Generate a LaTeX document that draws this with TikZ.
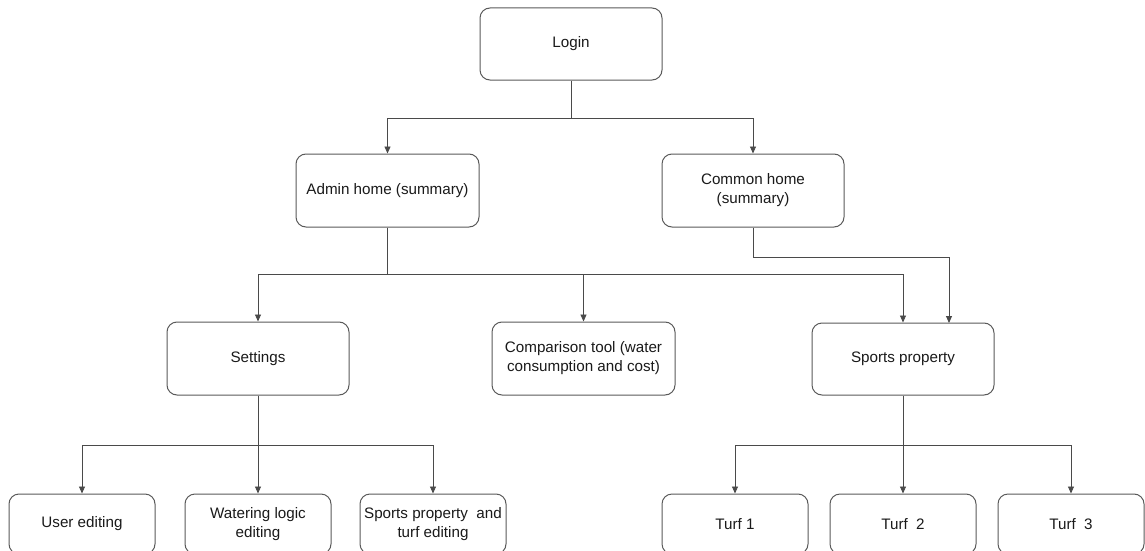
\documentclass[tikz,border=0pt]{standalone}
\usepackage{fontspec}
\setmainfont{Liberation Sans}
\usetikzlibrary{arrows.meta}
\definecolor{boxline}{HTML}{5A5A5A}
\definecolor{conline}{HTML}{4A4A4A}
\definecolor{txt}{HTML}{1A1A1A}
\tikzset{
  x=1pt, y=-1pt,
  box/.style={draw=boxline, line width=1pt, rounded corners=10pt, fill=white,
    align=center, text=txt, inner sep=2pt,
    font=\fontsize{15.2}{19}\selectfont},
  arr/.style={draw=conline, line width=0.9pt, -{Triangle[width=6pt,length=7pt]}},
  ln/.style={draw=conline, line width=0.9pt}
}
\begin{document}
\begin{tikzpicture}
\useasboundingbox (0,0) rectangle (1145,551);
\clip (0,0) rectangle (1145,551);
\fill[white] (0,0) rectangle (1145,551);
% level 0
\node[box, minimum width=182pt, minimum height=72pt] (login) at (571,44) {Login};
% level 1
\node[box, minimum width=183pt, minimum height=73pt] (admin) at (387.5,190.5) {Admin home (summary)};
\node[box, minimum width=182pt, minimum height=73pt] (common) at (753,190.5) {Common home\\(summary)};
% level 2
\node[box, minimum width=182pt, minimum height=73pt] (settings) at (258,358.5) {Settings};
\node[box, minimum width=183pt, minimum height=73pt] (compare) at (583.5,358.5) {Comparison tool (water\\consumption and cost)};
\node[box, minimum width=182pt, minimum height=72pt] (sports) at (903,359) {Sports property};
% level 3
\node[box, minimum width=146pt, minimum height=60pt] (user) at (82,524) {User editing};
\node[box, minimum width=146pt, minimum height=60pt] (water) at (258,524) {Watering logic\\editing};
\node[box, minimum width=146pt, minimum height=60pt] (spte) at (433,524) {Sports property~~and\\turf editing};
\node[box, minimum width=146pt, minimum height=60pt] (turfa) at (735,524) {Turf 1};
\node[box, minimum width=146pt, minimum height=60pt] (turfb) at (903,524) {Turf~~2};
\node[box, minimum width=146pt, minimum height=60pt] (turfc) at (1071,524) {Turf~~3};
% junctions
\coordinate (j0) at (571,118);
\coordinate (j1) at (387.5,274.5);
\coordinate (j2) at (753,257);
\coordinate (sp2) at (949,323);
\coordinate (j3) at (258,445);
\coordinate (j4) at (903,445);
% connectors
\draw[ln] (login.south) -- (j0);
\draw[arr] (j0) -| (admin.north);
\draw[arr] (j0) -| (common.north);
\draw[ln] (admin.south) -- (j1);
\draw[arr] (j1) -| (settings.north);
\draw[arr] (j1) -| (compare.north);
\draw[arr] (j1) -| (sports.north);
\draw[arr] (common.south) |- (j2) -| (sp2);
\draw[ln] (settings.south) -- (j3);
\draw[arr] (j3) -| (user.north);
\draw[arr] (j3) -- (water.north);
\draw[arr] (j3) -| (spte.north);
\draw[ln] (sports.south) -- (j4);
\draw[arr] (j4) -| (turfa.north);
\draw[arr] (j4) -- (turfb.north);
\draw[arr] (j4) -| (turfc.north);
\end{tikzpicture}
\end{document}
